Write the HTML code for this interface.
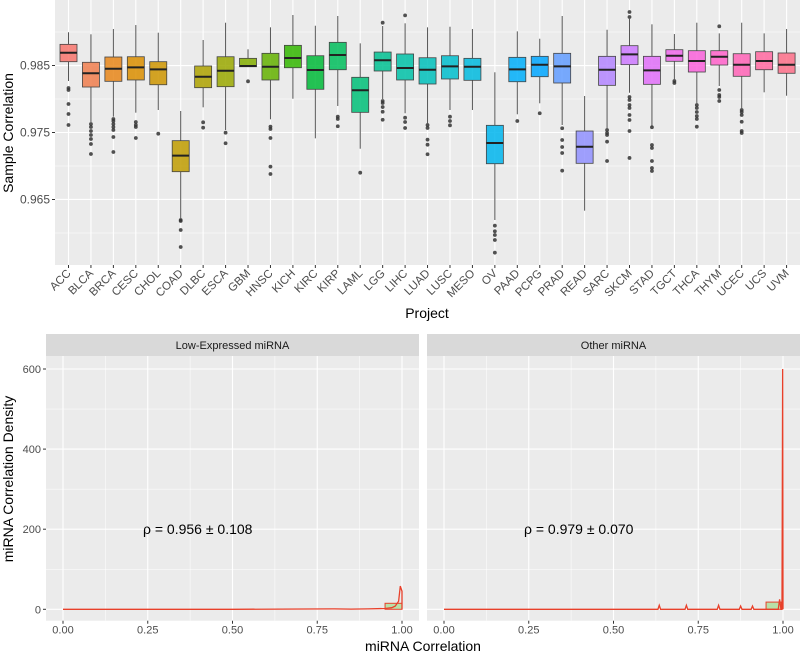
<!DOCTYPE html>
<html><head><meta charset="utf-8"><style>
body{margin:0;background:#fff;}
svg{display:block;font-family:"Liberation Sans",sans-serif;}
</style></head><body>
<svg id="c" width="800" height="654" viewBox="0 0 800 654"></svg>
<script>
// ---- Top chart data ----
const projects=["ACC","BLCA","BRCA","CESC","CHOL","COAD","DLBC","ESCA","GBM","HNSC","KICH","KIRC","KIRP","LAML","LGG","LIHC","LUAD","LUSC","MESO","OV","PAAD","PCPG","PRAD","READ","SARC","SKCM","STAD","TGCT","THCA","THYM","UCEC","UCS","UVM"];
const q1=[0.98557,0.98179,0.98264,0.98284,0.98213,0.96915,0.98169,0.98184,0.98482,0.98284,0.98467,0.98145,0.98437,0.97801,0.98418,0.98284,0.98224,0.98299,0.98279,0.97034,0.98258,0.98333,0.98239,0.9704,0.98204,0.98512,0.98219,0.98563,0.98403,0.98507,0.98339,0.98437,0.98384];
const medians=[0.98691,0.98384,0.98452,0.98473,0.98443,0.97154,0.98333,0.98422,0.98493,0.98482,0.98612,0.98433,0.98657,0.9813,0.98578,0.98463,0.98437,0.98488,0.98482,0.97343,0.98443,0.98512,0.98488,0.97288,0.98437,0.98667,0.98428,0.98646,0.98567,0.98631,0.98512,0.98567,0.98512];
const q3=[0.98816,0.98548,0.98627,0.98631,0.98557,0.97378,0.98493,0.98631,0.98607,0.98682,0.98801,0.98646,0.98846,0.98324,0.98701,0.98672,0.98616,0.98646,0.98607,0.97607,0.98622,0.98637,0.98682,0.97522,0.98637,0.98796,0.98637,0.98736,0.98721,0.98721,0.98676,0.98706,0.98687];
const whiskerLow=[0.98269,0.97657,0.97736,0.97796,0.97836,0.96219,0.97876,0.97537,0.98482,0.97697,0.98004,0.97413,0.97896,0.97258,0.9800,0.97787,0.97637,0.97836,0.97836,0.96194,0.97772,0.97936,0.97612,0.96333,0.97563,0.98094,0.97587,0.98294,0.97936,0.98194,0.97861,0.9810,0.98049];
const whiskerHigh=[0.98996,0.98966,0.99045,0.99104,0.9899,0.97821,0.98881,0.99139,0.98742,0.9907,0.99254,0.99094,0.99239,0.98831,0.9909,0.9913,0.9907,0.99079,0.99045,0.98399,0.9901,0.989,0.99239,0.98045,0.99034,0.99198,0.99115,0.9897,0.99139,0.9898,0.99139,0.9898,0.99045];
const outliers=[
[0.98164,0.98134,0.97925,0.97776,0.97612],
[0.97627,0.97582,0.97522,0.97463,0.97403,0.97328,0.97179],
[0.97701,0.97672,0.97627,0.97582,0.97537,0.97433,0.97209],
[0.97657,0.97612,0.97582,0.97418],
[0.97482],
[0.96194,0.96179,0.96045,0.95791],
[0.97652,0.97572],
[0.97497,0.97339],
[0.98264],
[0.97587,0.97552,0.97418,0.9699,0.9688],
[],
[],
[0.97736,0.97701,0.97593],
[0.9690],
[0.99139,0.9797,0.9794,0.9788,0.9781,0.9769],
[0.99249,0.97721,0.97657,0.97567],
[0.97612,0.97567,0.97393,0.97318,0.97175],
[0.97736,0.97672,0.97607],
[],
[0.96109,0.96025,0.9597,0.95895,0.95706],
[0.97672],
[0.97787],
[0.97563,0.97388,0.97284,0.97194,0.9693],
[],
[0.97537,0.97493,0.97463,0.97363,0.97075],
[0.99299,0.99224,0.9803,0.97985,0.9791,0.97866,0.97761,0.97687,0.97522,0.9712],
[0.97578,0.97313,0.97269,0.97075,0.9697,0.96925],
[0.98269,0.98239],
[0.9791,0.97866,0.97806,0.97746,0.97701,0.97587],
[0.99085,0.98134,0.9806,0.9803,0.9797],
[0.97836,0.97806,0.97761,0.97661,0.97522,0.97493],
[],
[]];
const topYTicks=[0.965,0.975,0.985];
const topYMinor=[0.96,0.97,0.98,0.99];
// ---- Bottom chart data ----
const densityYTicks=[0,200,400,600];
const densityYMinor=[100,300,500];
const densityXTicks=[0,0.25,0.5,0.75,1.0];
const densityXMinor=[0.125,0.375,0.625,0.875];
const lowDensX=[0,0.5,0.8,0.85,0.9,0.95,0.97,0.98,0.99,0.995,1.0,1.0];
const lowDensY=[0,0,1,0.5,1,2,4,8,20,58,45,0];
const otherSpikeX=[0.635,0.715,0.81,0.875,0.91,0.99];
const otherSpikeY=[10,10,10,8,8,25];
const otherPeakY=600;
const histLow=[0.95,1.0,15];
const histOther=[0.95,0.995,18];
const rhoLabels=["ρ = 0.956 ± 0.108","ρ = 0.979 ± 0.070"];
const facetNames=["Low-Expressed miRNA","Other miRNA"];

const NS="http://www.w3.org/2000/svg";
const svg=document.getElementById('c');
function mk(tag,attrs,parent){const e=document.createElementNS(NS,tag);for(const k in attrs)e.setAttribute(k,attrs[k]);(parent||svg).appendChild(e);return e;}
function hcl(h,c,l){
 const Y=Math.pow((l+16)/116,3);const un=0.19784,vn=0.46834;
 const hr=h*Math.PI/180;const u=c*Math.cos(hr),v=c*Math.sin(hr);
 const up=u/(13*l)+un,vp=v/(13*l)+vn;
 const X=Y*9*up/(4*vp),Z=Y*(12-3*up-20*vp)/(4*vp);
 let r=3.2404542*X-1.5371385*Y-0.4985314*Z,g=-0.9692660*X+1.8760108*Y+0.0415560*Z,b=0.0556434*X-0.2040259*Y+1.0572252*Z;
 const gm=t=>{t=Math.max(0,Math.min(1,t));return Math.round(255*(t<=0.0031308?12.92*t:1.055*Math.pow(t,1/2.4)-0.055));};
 return `rgb(${gm(r)},${gm(g)},${gm(b)})`;
}
// ---- Top panel ----
const PL=55,PR=800,PT=0,PB=265;
const yMin=0.95522,yMax=0.99478;
const ty=v=>PB-(v-yMin)/(yMax-yMin)*(PB-PT);
const tx=i=>68.5+i*22.44;
const gTop=mk('g',{});


const bg=mk('rect',{x:PL,y:PT,width:PR-PL,height:PB-PT,fill:'#ebebeb'},gTop);

topYMinor.forEach(v=>mk('line',{x1:PL,x2:PR,y1:ty(v),y2:ty(v),stroke:'#fff','stroke-width':0.5},gTop));
topYTicks.forEach(v=>{
 mk('line',{x1:PL,x2:PR,y1:ty(v),y2:ty(v),stroke:'#fff','stroke-width':1.1},gTop);
 mk('line',{x1:PL-3,x2:PL,y1:ty(v),y2:ty(v),stroke:'#333','stroke-width':1},gTop);
 const t=mk('text',{x:PL-5,y:ty(v)+4,'text-anchor':'end','font-size':12,fill:'#4d4d4d'},gTop);t.textContent=v.toFixed(3);
 
});
projects.forEach((p,i)=>{
 const x=tx(i);
 mk('line',{x1:x,x2:x,y1:PT,y2:PB,stroke:'#fff','stroke-width':1.1},gTop);
 mk('line',{x1:x,x2:x,y1:PB,y2:PB+3,stroke:'#333'},gTop);
 const t=mk('text',{x:0,y:0,'text-anchor':'end','font-size':11.5,fill:'#4d4d4d',transform:`translate(${x+3},${PB+9}) rotate(-45)`},gTop);t.textContent=p;
 
});
projects.forEach((p,i)=>{
 const x=tx(i),w=17,col=hcl(15+360*i/33,100,65);
 const g=mk('g',{},gTop);
 
 mk('line',{x1:x,x2:x,y1:ty(whiskerHigh[i]),y2:ty(q3[i]),stroke:'#555','stroke-width':1},g);
 mk('line',{x1:x,x2:x,y1:ty(q1[i]),y2:ty(whiskerLow[i]),stroke:'#555','stroke-width':1},g);
 mk('rect',{x:x-w/2,y:ty(q3[i]),width:w,height:Math.max(0.5,ty(q1[i])-ty(q3[i])),fill:col,'fill-opacity':0.85,stroke:'#444','stroke-width':0.8},g);
 mk('line',{x1:x-w/2,x2:x+w/2,y1:ty(medians[i]),y2:ty(medians[i]),stroke:'#222','stroke-width':2},g);
 outliers[i].forEach(v=>mk('circle',{cx:x,cy:ty(v),r:1.9,fill:'#333','fill-opacity':0.85},g));
});
let t=mk('text',{x:0,y:0,'text-anchor':'middle','font-size':14,fill:'#000',transform:'translate(13,133) rotate(-90)'});t.textContent='Sample Correlation';

t=mk('text',{x:427,y:318,'text-anchor':'middle','font-size':14,fill:'#000'});t.textContent='Project';

// ---- Bottom panels ----
const BT=356,BB=620.7,ST=334;
const by=v=>609.3-v*0.4005;
const panels=[{l:46,r:419,x0:63,x1:402},{l:427,r:800,x0:444,x1:783}];
panels.forEach((P,k)=>{
 const bx=v=>P.x0+v*(P.x1-P.x0);
 const g=mk('g',{});
 
 mk('rect',{x:P.l,y:ST,width:P.r-P.l,height:BT-ST,fill:'#d9d9d9'},g);
 const st=mk('text',{x:(P.l+P.r)/2,y:ST+15,'text-anchor':'middle','font-size':11,fill:'#1a1a1a'},g);st.textContent=facetNames[k];
 
 mk('rect',{x:P.l,y:BT,width:P.r-P.l,height:BB-BT,fill:'#ebebeb'},g);
 densityYMinor.forEach(v=>mk('line',{x1:P.l,x2:P.r,y1:by(v),y2:by(v),stroke:'#fff','stroke-width':0.5},g));
 densityXMinor.forEach(v=>mk('line',{x1:bx(v),x2:bx(v),y1:BT,y2:BB,stroke:'#fff','stroke-width':0.5},g));
 densityYTicks.forEach(v=>mk('line',{x1:P.l,x2:P.r,y1:by(v),y2:by(v),stroke:'#fff','stroke-width':1.1},g));
 densityXTicks.forEach(v=>{
  mk('line',{x1:bx(v),x2:bx(v),y1:BT,y2:BB,stroke:'#fff','stroke-width':1.1},g);
  mk('line',{x1:bx(v),x2:bx(v),y1:BB,y2:BB+3,stroke:'#333'},g);
  const tl=mk('text',{x:bx(v),y:BB+13,'text-anchor':'middle','font-size':11,fill:'#4d4d4d'},g);tl.textContent=v.toFixed(2);
  
 });
 const h=k?histOther:histLow;
 const hr=mk('rect',{x:bx(h[0]),y:by(h[2]),width:bx(h[1])-bx(h[0]),height:by(0)-by(h[2]),fill:'#b8e0a8',stroke:'#e8402a','stroke-width':1},g);
 
 let d;
 if(k===0){d=lowDensX.map((x,i)=>(i?'L':'M')+bx(x)+','+by(lowDensY[i])).join('');}
 else{
  const pts=[[0,0]];
  otherSpikeX.forEach((x,i)=>{pts.push([x-0.004,0],[x,otherSpikeY[i]],[x+0.004,0]);});
  pts.push([0.997,0],[0.999,otherPeakY],[1.0,0]);
  d=pts.map((p,i)=>(i?'L':'M')+bx(p[0])+','+by(p[1])).join('');
 }
 const ln=mk('path',{d:d,fill:'none',stroke:'#e8402a','stroke-width':1.3},g);
 
 const rl=mk('text',{x:bx(0.25)+50,y:by(200)+5,'text-anchor':'middle','font-size':14,fill:'#000'},g);rl.textContent=rhoLabels[k];
 
});
densityYTicks.forEach(v=>{
 mk('line',{x1:43,x2:46,y1:by(v),y2:by(v),stroke:'#333'});
 const tl=mk('text',{x:41,y:by(v)+4,'text-anchor':'end','font-size':11,fill:'#4d4d4d'});tl.textContent=v;
 
});
t=mk('text',{x:0,y:0,'text-anchor':'middle','font-size':14,fill:'#000',transform:'translate(13,479) rotate(-90)'});t.textContent='miRNA Correlation Density';

t=mk('text',{x:423,y:651,'text-anchor':'middle','font-size':14,fill:'#000'});t.textContent='miRNA Correlation';

</script>
</body></html>
